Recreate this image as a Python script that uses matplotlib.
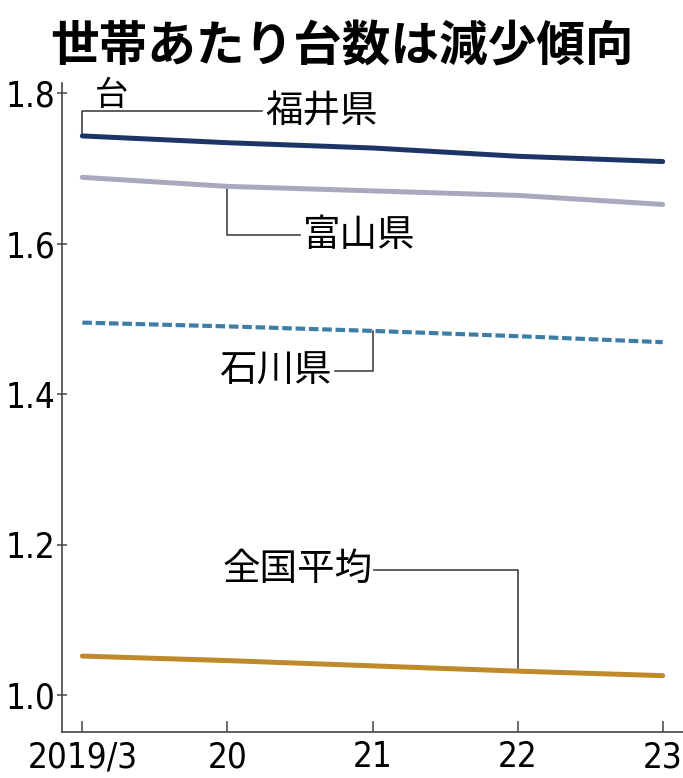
import matplotlib
matplotlib.use("Agg")
import matplotlib.pyplot as plt

plt.rcParams['font.family'] = ['Noto Sans CJK JP', 'DejaVu Sans']

# data
years = ['2019/3', '20', '21', '22', '23']
fukui = [1.743, 1.734, 1.727, 1.716, 1.709]
toyama = [1.688, 1.676, 1.670, 1.664, 1.652]
ishikawa = [1.495, 1.490, 1.484, 1.477, 1.469]
national = [1.052, 1.046, 1.039, 1.032, 1.026]

x = list(range(len(years)))
lead = dict(color='#333333', lw=1.1)

fig = plt.figure(figsize=(6.83, 7.78), dpi=100)
ax = fig.add_axes([0.0908, 0.059, 0.9092, 0.834])

ax.plot(x, fukui, color='#1c3566', lw=3.6, solid_capstyle='round', zorder=3)
ax.plot(x, toyama, color='#a8a9bd', lw=3.6, solid_capstyle='round', zorder=3)
ax.plot(x, ishikawa, color='#3d7ea6', lw=3.0, dashes=(2.3, 0.9), zorder=3)
ax.plot(x, national, color='#bf8a2c', lw=3.6, solid_capstyle='round', zorder=3)

ax.set_xlim(-0.14, 4.14)
ax.set_ylim(0.951, 1.813)
ax.set_yticks([1.0, 1.2, 1.4, 1.6, 1.8])
ax.set_yticklabels(['1.0', '1.2', '1.4', '1.6', '1.8'])
ax.set_xticks(x)
ax.set_xticklabels(years)
for lab in ax.get_xticklabels() + ax.get_yticklabels():
    lab.set_family('DejaVu Sans')
    lab.set_stretch('condensed')
    lab.set_fontsize(25)

for s in ['top', 'right']:
    ax.spines[s].set_visible(False)
for s in ['left', 'bottom']:
    ax.spines[s].set_color('#444444')
    ax.spines[s].set_linewidth(1.2)
ax.tick_params(axis='y', direction='inout', length=7, width=1.1, color='#444444', pad=1)
ax.tick_params(axis='x', direction='in', length=8, width=1.1, color='#444444', pad=6)

# unit
ax.text(0.2, 1.797, '台', fontsize=24, ha='center', va='center')

# leader lines and labels
ax.plot([x[0], x[0], 1.24], [fukui[0], 1.776, 1.776], **lead)
ax.text(1.26, 1.776, '福井県', fontsize=27, ha='left', va='center')

ax.plot([x[1], x[1], 1.50], [toyama[1], 1.611, 1.611], **lead)
ax.text(1.52, 1.611, '富山県', fontsize=27, ha='left', va='center')

ax.plot([x[2], x[2], 1.74], [ishikawa[2], 1.431, 1.431], **lead)
ax.text(1.72, 1.431, '石川県', fontsize=27, ha='right', va='center')

ax.plot([2.01, x[3], x[3]], [1.167, 1.167, national[3]], **lead)
ax.text(2.0, 1.167, '全国平均', fontsize=27, ha='right', va='center')

fig.text(0.5, 0.940, '世帯あたり台数は減少傾向', fontsize=35, fontweight='bold',
         ha='center', va='center')

fig.savefig('out.png', dpi=100)
